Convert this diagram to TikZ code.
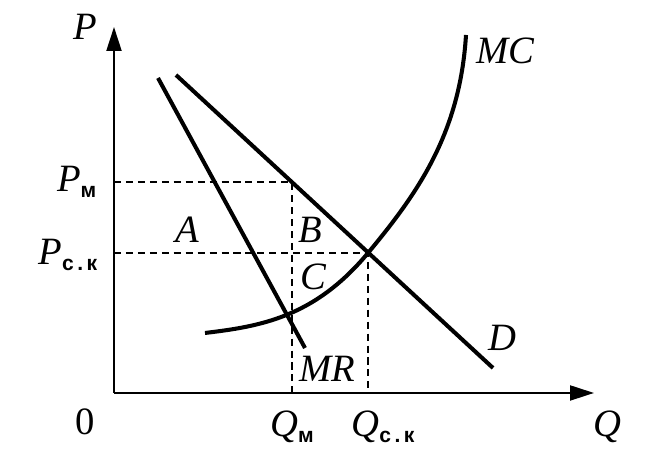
\documentclass[tikz,border=0pt]{standalone}
\usepackage{fontspec}
\setmainfont{Liberation Serif}
\newfontfamily\subfont{Liberation Sans}
\usepackage{tikz}
\usetikzlibrary{arrows.meta,positioning}
\tikzstyle{axis} = [line width=0.6pt,-{Triangle[length=2.4mm,width=1.5mm]}]
\tikzstyle{curve} = [line width=1.15pt]
\tikzstyle{guide} = [line width=0.45pt, dash pattern=on 2pt off 1.4pt]
\tikzstyle{lbl} = [inner sep=0pt, font=\fontsize{11}{13}\selectfont\itshape]
\newcommand{\idx}[1]{\raisebox{-0.6mm}{\upshape\subfont\bfseries\fontsize{6}{6}\selectfont #1}}

\begin{document}
\begin{tikzpicture}[x=1mm, y=1mm]
\useasboundingbox (-11.4,-7.3) rectangle (53.8,39.3);
% Key points
\coordinate (O) at (0,0);
\coordinate (ytop) at (0,36.6);
\coordinate (xend) at (48,0);
\coordinate (Pm) at (0,21.1);
\coordinate (Pck) at (0,14.0);
\coordinate (Qm) at (17.8,0);
\coordinate (Qck) at (25.4,0);
\coordinate (M) at (17.8,21.1);
\coordinate (E) at (25.4,14.0);
\coordinate (mr1) at (4.4,31.5);
\coordinate (mr2) at (19.1,4.5);
\coordinate (d1) at (6.2,31.8);
\coordinate (d2) at (37.9,2.5);
\coordinate (mc1) at (9.1,6.0);
\coordinate (mc2) at (35.2,35.8);
% Axes
\draw[axis] (O) -- (ytop);
\draw[axis] (O) -- (xend);
% Guide lines
\draw[guide] (Pm) -- (M) -- (Qm);
\draw[guide] (Pck) -- (E) -- (Qck);
% Curves
\draw[curve] (mr1) -- (mr2);
\draw[curve] (d1) -- (d2);
\draw[curve] (mc1) .. controls (14.5,6.65) and (20.0,7.5) .. (E)
  .. controls (30.4,20.0) and (34.6,26.0) .. (mc2);
% Labels
\node[lbl] (lP) at (-2.9,36.6) {P};
\node[lbl, anchor=base] (lQ) at (49.3,-4.4) {Q};
\node[lbl, anchor=base, font=\fontsize{11}{13}\selectfont] (l0) at (-2.9,-4.2) {0};
\node[lbl, anchor=base east] (lPm) at (-1.7,20.1) {P\idx{м}};
\node[lbl, anchor=base east] (lPck) at (-1.6,12.8) {P\idx{с\,.\,к}};
\node[lbl, anchor=base] (lQm) at (17.8,-4.4) {Q\idx{м}};
\node[lbl, anchor=base] (lQck) at (26.9,-4.4) {Q\idx{с\,.\,к}};
\node[lbl] (lMC) at (39.1,34.2) {MC};
\node[lbl] (lD) at (38.8,5.5) {D};
\node[lbl] (lMR) at (21.3,2.4) {MR};
\node[lbl] (lA) at (7.3,16.3) {A};
\node[lbl] (lB) at (19.6,16.3) {B};
\node[lbl] (lC) at (19.9,11.6) {C};
\end{tikzpicture}
\end{document}
